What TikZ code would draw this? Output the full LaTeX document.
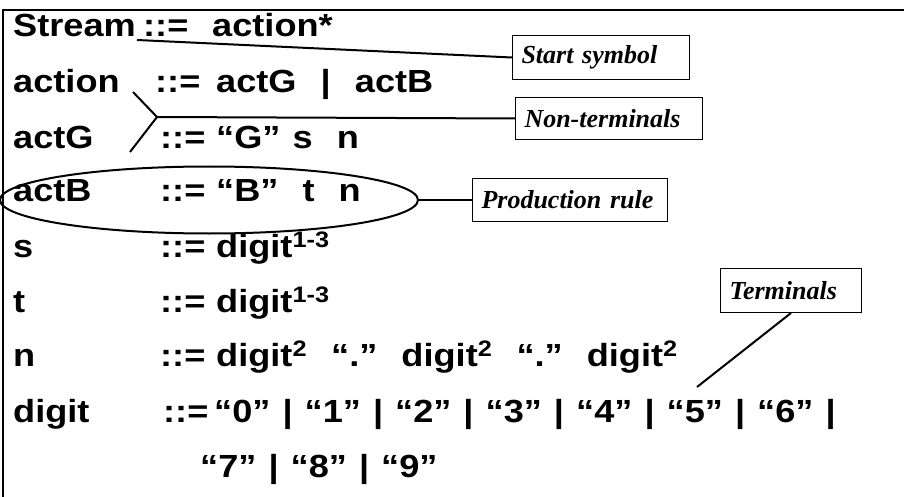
\documentclass[tikz,border=0pt]{standalone}
\usepackage{fontspec}
\usetikzlibrary{shapes.geometric}
\newfontfamily\gramfont[FakeStretch=1.13,WordSpace=1.2]{Liberation Sans}
\newfontfamily\notefont{Liberation Serif}
\begin{document}
\begin{tikzpicture}[x=1pt,y=-1pt,
  gram/.style={anchor=base west,inner sep=0pt,font=\gramfont\bfseries\fontsize{32}{38}\selectfont},
  note/.style={draw,line width=1pt,anchor=north west,inner xsep=9pt,inner ysep=0pt,minimum height=44pt,
    font=\notefont\bfseries\itshape\fontsize{26}{30}\selectfont},
  lead/.style={line width=2pt}]
  \useasboundingbox (0,0) rectangle (904,497);
  % frame
  \draw[line width=2pt] (3,497) -- (3,10) -- (904,10);
  % grammar rows
  \node[gram] (stream) at (13,37) {Stream};
  \node[gram] (def1) at (143,37) {::=};
  \node[gram] (rhs1) at (212,37) {action*};
  \node[gram] (action) at (13,93) {action};
  \node[gram] (def2) at (155,93) {::=};
  \node[gram] (rhs2) at (216,93) {actG\ \ |\ \ actB};
  \node[gram] (actg) at (13,149) {actG};
  \node[gram] (def3) at (160,149) {::=};
  \node[gram] (rhs3) at (216,149) {“G” s\ \ n};
  \node[gram] (actb) at (13,201) {actB};
  \node[gram] (def4) at (160,201) {::=};
  \node[gram] (rhs4) at (216,201) {“B”\ \ t\ \ n};
  \node[gram] (s) at (13,257) {s};
  \node[gram] (def5) at (160,257) {::=};
  \node[gram] (rhs5) at (216,257) {digit\textsuperscript{1-3}};
  \node[gram] (t) at (13,312) {t};
  \node[gram] (def6) at (160,312) {::=};
  \node[gram] (rhs6) at (216,312) {digit\textsuperscript{1-3}};
  \node[gram] (n) at (13,366) {n};
  \node[gram] (def7) at (160,366) {::=};
  \node[gram] (rhs7) at (216,366) {digit\textsuperscript{2}\ \ “.”\ \ digit\textsuperscript{2}\ \ “.”\ \ digit\textsuperscript{2}};
  \node[gram] (digit) at (13,422) {digit};
  \node[gram] (def8) at (163,422) {::=};
  \node[gram] (rhs8) at (214,422) {“0” | “1” | “2” | “3” | “4” | “5” | “6” |};
  \node[gram] (rhs9) at (200,477) {“7” | “8” | “9”};
  % callouts
  \node[note,text width=159pt] (start) at (512,35) {Start symbol};
  \node[note,text width=169pt,minimum height=42pt] (nonterm) at (515,97) {Non-terminals};
  \node[note,text width=177pt,minimum height=43pt] (prodrule) at (472,178) {Production rule};
  \node[note,text width=123pt] (term) at (720,268) {Terminals};
  \node[draw,ellipse,line width=2pt,minimum width=418pt,minimum height=67pt] (prod) at (209,200) {};
  \coordinate (stm) at (137,40);
  \coordinate (nt1) at (133,92);
  \coordinate (nt2) at (130,152);
  \coordinate (ntv) at (157,117);
  \coordinate (tm) at (697,387);
  \draw[lead] (stm) -- (start.west);
  \draw[lead] (nt1) -- (ntv) -- (nt2);
  \draw[lead] (ntv) -- (nonterm.west);
  \draw[lead] (prod.east) -- (prodrule.west);
  \draw[lead] (term.south) -- (tm);
\end{tikzpicture}
\end{document}
